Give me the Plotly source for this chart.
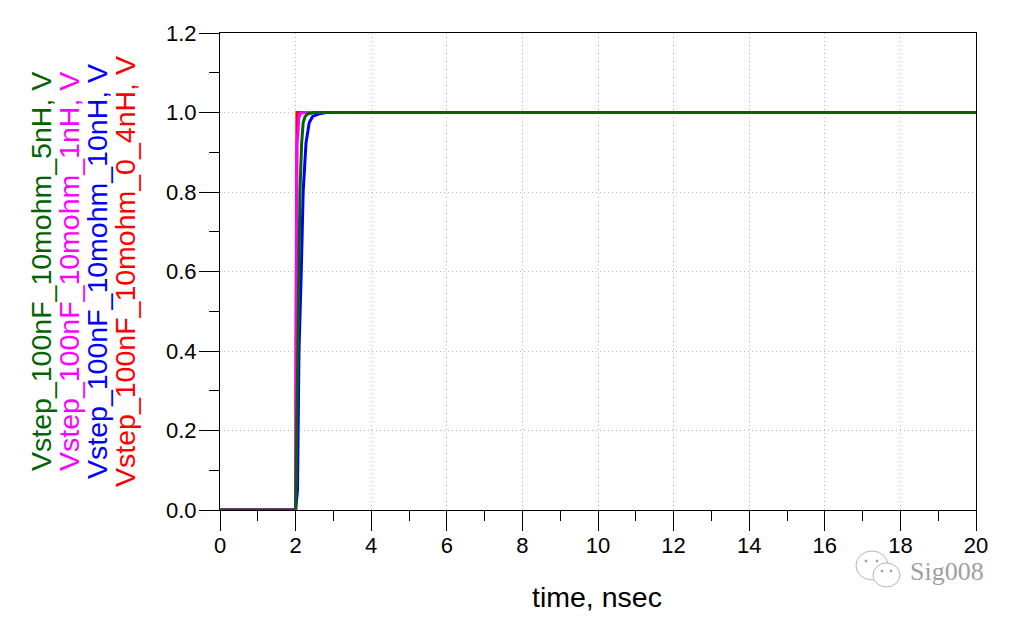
import plotly.graph_objects as go

FONT = "Liberation Sans"
t_red = [0, 2.0, 2.01, 2.03, 2.035, 20]
v_red = [0, 0, 0.4, 0.85, 1.0, 1.0]
t_blue = [0, 2.0, 2.05, 2.07, 2.09, 2.15, 2.2, 2.275, 2.36, 2.45, 2.6, 2.8, 20]
v_blue = [0, 0, 0.05, 0.26, 0.4, 0.6, 0.8, 0.923, 0.974, 0.99, 0.996, 1.0, 1.0]
t_magenta = [0, 2.0, 2.01, 2.02, 2.03, 2.035, 2.065, 2.08, 2.13, 2.25, 20]
v_magenta = [0, 0, 0.3, 0.6, 0.85, 0.92, 0.95, 0.985, 0.998, 1.0, 1.0]
t_green = [0, 2.0, 2.045, 2.08, 2.115, 2.16, 2.2, 2.25, 2.33, 2.5, 20]
v_green = [0, 0, 0.3, 0.6, 0.8, 0.923, 0.974, 0.99, 0.997, 1.0, 1.0]

series = [
    ("Vstep_100nF_10mohm_0_4nH, V", "#ff0000", t_red, v_red),
    ("Vstep_100nF_10mohm_10nH, V", "#0000ff", t_blue, v_blue),
    ("Vstep_100nF_10mohm_1nH, V", "#ff00ff", t_magenta, v_magenta),
    ("Vstep_100nF_10mohm_5nH, V", "#006400", t_green, v_green),
]

fig = go.Figure()
for name, color, t, v in series:
    fig.add_trace(go.Scatter(x=t, y=v, mode="lines", name=name,
                             line=dict(color=color, width=3), showlegend=False))

axis = dict(showline=True, linecolor="black", linewidth=1, mirror=True, automargin=False,
            gridcolor="#b8b8b8", griddash="1px,3px", gridwidth=1, zeroline=False,
            ticks="outside", ticklen=20, tickcolor="black", tickwidth=1,
            tickfont=dict(family=FONT, size=22, color="black"))

# page-pixel box of the plot; the page body adds an 8 px margin
L, T, R, B = 220, 33, 976, 510
OFF = 8
W, H = 1001, 606
fig.update_layout(
    width=W, height=H, autosize=False, paper_bgcolor="white", plot_bgcolor="white",
    margin=dict(l=L - OFF, r=W - (R - OFF), t=T - OFF, b=H - (B - OFF)),
    xaxis=dict(range=[0, 20], dtick=2, tick0=0, ticklabelstandoff=-4,
               minor=dict(dtick=1, ticks="outside", ticklen=10, tickcolor="black", showgrid=False),
               **axis),
    yaxis=dict(range=[0, 1.2], dtick=0.2, tick0=0, tickformat=".1f", ticklabelstandoff=-2,
               minor=dict(dtick=0.1, ticks="outside", ticklen=10, tickcolor="black", showgrid=False),
               **axis),
    font=dict(family=FONT),
)

def px(x): return (x - L) / (R - L)
def py(y): return (B - y) / (B - T)

fig.add_annotation(text="time, nsec", xref="paper", yref="paper", x=px(597), y=py(597),
                   xanchor="center", yanchor="middle", showarrow=False,
                   font=dict(family=FONT, size=28.5, color="black"))

label_x = [41, 69, 97, 125]
order = [3, 2, 1, 0]
for x, i in zip(label_x, order):
    fig.add_annotation(text=series[i][0], xref="paper", yref="paper",
                       x=px(x), y=py(272), xanchor="center", yanchor="middle",
                       textangle=-90, showarrow=False,
                       font=dict(family=FONT, size=28.5, color=series[i][1]))

# Watermark
fig.add_annotation(text="Sig008", xref="paper", yref="paper",
                   x=px(947), y=py(571), xanchor="center", yanchor="middle", borderpad=0,
                   showarrow=False, font=dict(family="Liberation Serif", size=26, color="#a0a0a0"))

for x0, y0, x1, y1 in [(856, 551, 888, 580), (873, 563, 900, 587)]:
    fig.add_shape(type="circle", xref="paper", yref="paper", x0=px(x0), x1=px(x1), y0=py(y0), y1=py(y1),
                  line=dict(color="#b5b5b5", width=1), fillcolor="white")
for cx, cy in [(866, 561), (877, 561), (882, 571), (891, 571)]:
    fig.add_shape(type="circle", xref="paper", yref="paper", x0=px(cx - 1), x1=px(cx + 1), y0=py(cy - 1), y1=py(cy + 1),
                  line=dict(color="#a0a0a0", width=1), fillcolor="#a0a0a0")

fig.write_html("out.html")
